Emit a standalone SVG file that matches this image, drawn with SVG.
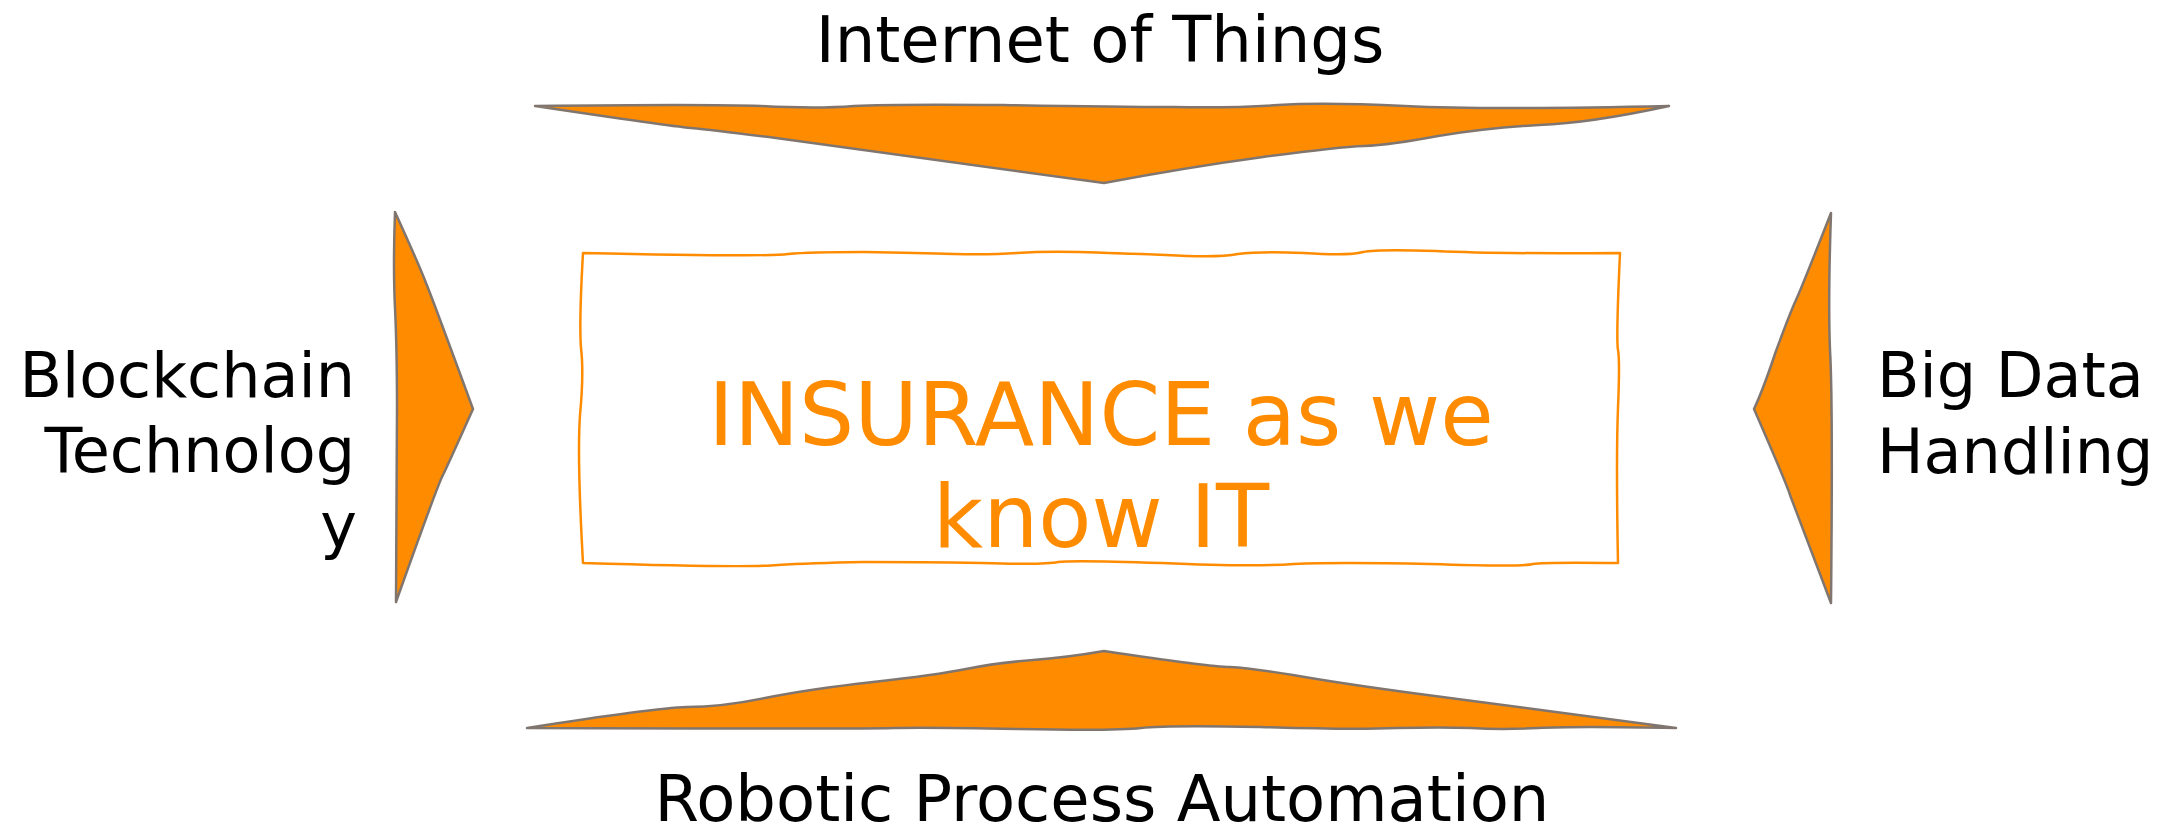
<svg xmlns="http://www.w3.org/2000/svg" width="2174" height="829" viewBox="0 0 2174 829">
<style>
  .tri { fill: #FF8C00; stroke: #80766F; stroke-width: 2.5; stroke-linejoin: round; }
  .box { fill: #FFFFFF; stroke: #FF8C00; stroke-width: 2.5; stroke-linejoin: round; }
  .lbl { font-family: "DejaVu Sans", Verdana, sans-serif; fill: #000000; }
  .main { font-family: "DejaVu Sans", Verdana, sans-serif; fill: #FF8C00; font-size: 87px; text-anchor: middle; }
</style>
<rect width="2174" height="829" fill="#FFFFFF"/>
<g id="center">
  <path class="box" d="M583,253 Q768,257 788,254 Q809,252 864,252 Q920,253 954,254 Q989,255 1017,253 Q1045,251 1079,252 Q1114,253 1166,255 Q1218,258 1238,254 Q1259,251 1304,253 Q1349,256 1363,252 Q1377,249 1436,251 Q1495,254 1620,253 Q1616,340 1618,350 Q1620,360 1618,408 Q1616,457 1618,563 Q1543,562 1533,564 Q1523,567 1430,564 Q1336,562 1294,564 Q1253,567 1162,563 Q1072,560 1058,562 Q1045,565 982,563 Q920,562 864,562 Q809,563 778,565 Q747,568 583,563 Q577,457 580,415 Q584,373 581,348 Q579,323 583,253 Z"/>
  <text class="main" x="1101" y="445">INSURANCE as we</text>
  <text class="main" x="1101" y="547">know IT</text>
</g>
<g id="iot">
  <path class="tri" d="M535,106 Q706,104 761,106 Q817,109 854,106 Q892,104 1003,105 Q1115,107 1174,107 Q1234,108 1278,105 Q1323,102 1405,106 Q1487,110 1669,106 Q1591,123 1539,125 Q1487,128 1438,136 Q1390,145 1364,146 Q1338,147 1263,157 Q1189,167 1104,183 Q840,147 776,138 Q713,130 691,128 Q669,126 535,106 Z"/>
  <text class="lbl" x="1100" y="62" font-size="64" text-anchor="middle">Internet of Things</text>
</g>
<g id="rpa">
  <path class="tri" d="M527,728 Q654,708 687,707 Q721,707 765,698 Q810,689 873,682 Q936,675 966,669 Q996,663 1033,660 Q1070,657 1104,651 Q1211,667 1230,667 Q1249,668 1293,675 Q1338,683 1412,693 Q1487,703 1676,728 Q1576,726 1538,728 Q1501,730 1471,728 Q1442,727 1397,728 Q1353,730 1260,727 Q1167,725 1141,728 Q1115,731 1018,729 Q921,727 895,728 Q869,729 527,728 Z"/>
  <text class="lbl" x="1102" y="821" font-size="64" text-anchor="middle">Robotic Process Automation</text>
</g>
<g id="blockchain">
  <path class="tri" d="M395,212 Q420,267 426,283 Q433,300 473,409 Q447,467 442,477 Q437,487 396,602 Q397,467 397,408 Q397,350 395,308 Q393,267 395,212 Z"/>
  <text class="lbl" font-size="62" text-anchor="end"><tspan x="355" y="397">Blockchain</tspan><tspan x="355" y="472">Technolog</tspan><tspan x="357" y="547">y</tspan></text>
</g>
<g id="bigdata">
  <path class="tri" d="M1831,213 Q1802,287 1796,300 Q1790,313 1776,351 Q1763,390 1754,409 Q1788,487 1790,495 Q1793,503 1831,603 Q1833,400 1830,350 Q1828,300 1831,213 Z"/>
  <text class="lbl" font-size="62"><tspan x="1877" y="397">Big Data</tspan><tspan x="1877" y="473">Handling</tspan></text>
</g>
<g id="connectors"></g>
</svg>
